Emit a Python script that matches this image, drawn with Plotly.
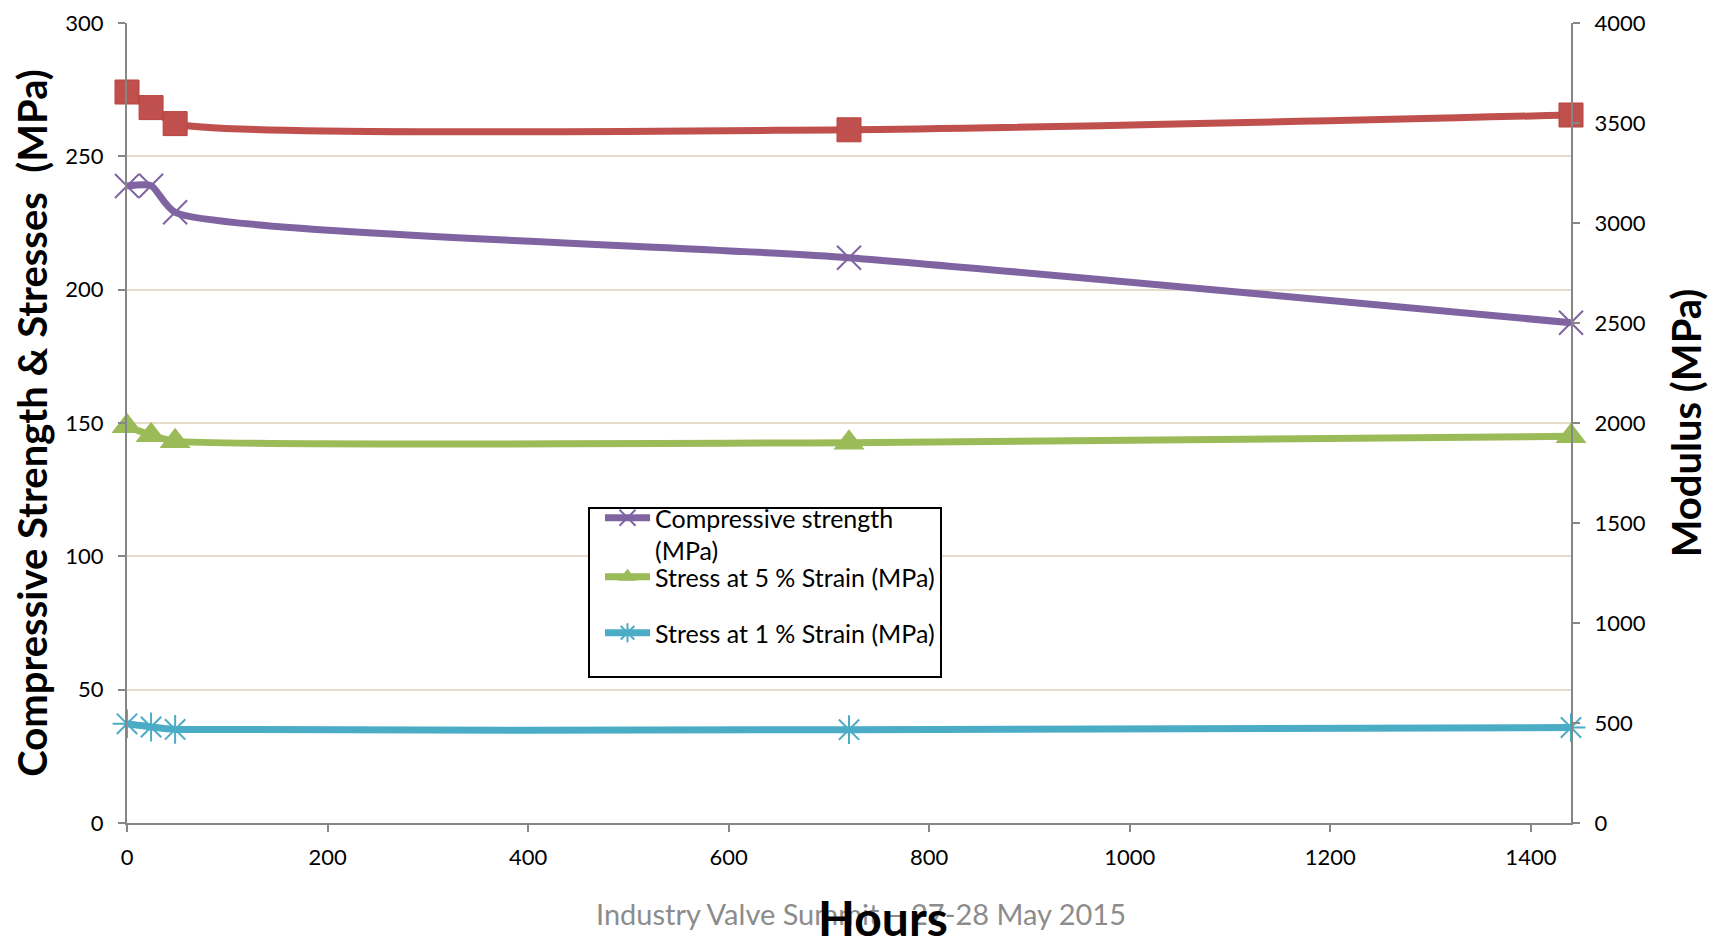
import plotly.graph_objects as go

hours = [0, 24, 48, 720, 1440]
compressive_strength = [238.9, 239.0, 229.0, 212.0, 187.6]
stress_5pct = [148.8, 145.4, 143.2, 142.6, 145.0]
stress_1pct = [37.2, 36.0, 35.1, 35.0, 35.8]
modulus = [3655, 3577, 3497, 3466, 3540]

left_ticks = [0, 50, 100, 150, 200, 250, 300]
right_ticks = [0, 500, 1000, 1500, 2000, 2500, 3000, 3500, 4000]
x_ticks = [0, 200, 400, 600, 800, 1000, 1200, 1400]

FONT = "Lato"
PURPLE = "#8064A2"
GREEN = "#9BBB59"
CYAN = "#4BACC6"
RED = "#C0504D"
AXIS = "#868686"
GRID = "#E6DCCB"
SMOOTH = 0.6

# plot area in page pixels: x 127..1571, y 23..823
PX0, PW, PY0, PH = 127, 1444, 23, 800


def px(x):
    return (x - PX0) / PW


def py(y):
    return 1 - (y - PY0) / PH


fig = go.Figure()

fig.add_trace(go.Scatter(
    x=hours, y=modulus, yaxis="y2", mode="lines+markers", showlegend=False,
    name="Modulus (MPa)",
    line=dict(color=RED, width=7, shape="spline", smoothing=SMOOTH),
    marker=dict(symbol="square", size=24, color=RED, line=dict(width=1, color="#B8433F")),
    cliponaxis=False,
))
fig.add_trace(go.Scatter(
    x=hours, y=compressive_strength, mode="lines+markers",
    name="Compressive strength<br>(MPa)", legend="legend",
    line=dict(color=PURPLE, width=7, shape="spline", smoothing=SMOOTH),
    marker=dict(symbol="x-thin-open", size=24, color=PURPLE, line=dict(width=2, color=PURPLE)),
    cliponaxis=False,
))
fig.add_trace(go.Scatter(
    x=hours, y=stress_5pct, mode="lines+markers",
    name="Stress at 5 % Strain (MPa)", legend="legend2",
    line=dict(color=GREEN, width=7, shape="spline", smoothing=SMOOTH),
    marker=dict(symbol="triangle-up", size=27, color=GREEN),
    cliponaxis=False,
))
fig.add_trace(go.Scatter(
    x=hours, y=stress_1pct, mode="lines+markers",
    name="Stress at 1 % Strain (MPa)", legend="legend3",
    line=dict(color=CYAN, width=7, shape="spline", smoothing=SMOOTH),
    marker=dict(symbol="asterisk-open", size=24, color=CYAN, line=dict(width=2, color=CYAN)),
    cliponaxis=False,
))

legend_common = dict(
    xanchor="left", yanchor="top", bgcolor="rgba(0,0,0,0)", borderwidth=0,
    font=dict(size=25, family=FONT), valign="top", itemwidth=45,
)

fig.update_layout(
    width=1721, height=936,
    margin=dict(l=119, r=158, t=15, b=121, autoexpand=False),
    paper_bgcolor="white", plot_bgcolor="white",
    font=dict(family=FONT, size=22, color="black"),
    xaxis=dict(
        range=[0, 1440], tickvals=x_ticks, ticktext=[str(v) for v in x_ticks],
        showgrid=False, zeroline=False, showline=True, linecolor=AXIS, linewidth=2,
        ticks="outside", ticklen=7, tickcolor=AXIS, tickwidth=2, ticklabelstandoff=7,
        tickfont=dict(size=22, family=FONT), automargin=False,
    ),
    yaxis=dict(
        range=[0, 300], tickvals=left_ticks, ticktext=[str(v) for v in left_ticks],
        showgrid=True, gridcolor=GRID, gridwidth=2, zeroline=False,
        showline=True, linecolor=AXIS, linewidth=2,
        ticks="outside", ticklen=7, tickcolor=AXIS, tickwidth=2, ticklabelstandoff=10,
        tickfont=dict(size=22, family=FONT), automargin=False,
        title=dict(text="<b>Compressive Strength & Stresses  (MPa)</b>",
                   font=dict(size=40, family=FONT), standoff=10),
    ),
    yaxis2=dict(
        range=[0, 4000], tickvals=right_ticks, ticktext=[str(v) for v in right_ticks],
        overlaying="y", side="right", showgrid=False, zeroline=False,
        showline=True, linecolor=AXIS, linewidth=2,
        ticks="outside", ticklen=7, tickcolor=AXIS, tickwidth=2, ticklabelstandoff=10,
        tickfont=dict(size=22, family=FONT), automargin=False,
        title=dict(text="<b>Modulus (MPa)</b>", font=dict(size=40, family=FONT), standoff=28),
    ),
    legend=dict(x=px(600), y=py(495), **legend_common),
    legend2=dict(x=px(600), y=py(554), **legend_common),
    legend3=dict(x=px(600), y=py(610), **legend_common),
    shapes=[
        dict(type="rect", xref="paper", yref="paper", layer="above",
             x0=px(589), x1=px(941), y0=py(508), y1=py(677),
             fillcolor="white", line=dict(color="black", width=2)),
    ],
    annotations=[
        dict(text="Industry Valve Summit – 27-28 May 2015", xref="paper", yref="paper",
             x=px(861), y=py(913), xanchor="center", yanchor="middle",
             showarrow=False, font=dict(size=29, family=FONT, color="#8C8C8C")),
        dict(text="<b>Hours</b>", xref="paper", yref="paper",
             x=px(883), y=py(918), xanchor="center", yanchor="middle",
             showarrow=False, font=dict(size=48, family=FONT, color="black")),
        dict(text="8", xref="paper", yref="paper",
             x=px(1712), y=py(925), xanchor="left", yanchor="middle",
             showarrow=False, font=dict(size=24, family=FONT, color="black")),
    ],
)

fig.write_html("out.html")
